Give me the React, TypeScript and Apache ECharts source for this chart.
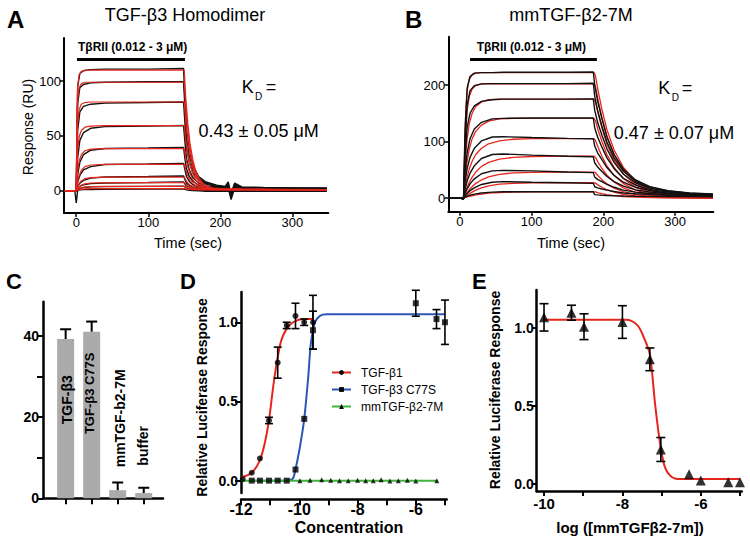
import { useEffect, useRef } from 'react';
import * as echarts from 'echarts';

const FONT = '"Liberation Sans", Arial, Helvetica, sans-serif';
const RED = '#e4261c';
const BLUE = '#2d55b5';
const GREEN = '#3fb53a';
const GRAY = '#ababab';

// ---------- Panel A: TGF-β3 homodimer sensorgrams ----------
const tAObs = [-16, -2, 0, 2, 5, 10, 20, 40, 100, 149, 151, 153, 157, 162, 170, 180, 195, 207, 211, 215, 220, 230, 260, 300, 348];
const aObs1 = [0, 0, 0, 95, 107, 109.5, 110.5, 111, 111, 111.5, 83, 56, 36, 23, 13, 8, 5, 4, 8, -3, 7, 3.5, 3, 2.5, 2.5];
const aObs2 = [0, 0, 0, 80, 94, 97, 98.5, 99, 99.5, 99.5, 75, 50, 32, 20, 11.5, 7, 4.5, 3.5, 6, -2, 6, 3, 2.8, 2.5, 2];
const aObs3 = [0, 0, 0, 55, 72, 77, 79, 80, 80.5, 81, 61, 40, 26, 16.5, 9.5, 6, 4, 3.5, 5, -4, 5, 3, 2.5, 2, 2];
const aObs4 = [0, 0, 0, 30, 46, 53, 57, 58.5, 59, 59.5, 44, 30, 19, 12, 7, 4.5, 3.5, 3, 4, -6, 4, 2.5, 2.5, 2, 1.5];
const aObs5 = [0, 0, 0, 15, 26, 33, 37, 38.5, 39, 39.5, 29, 20, 13, 8.5, 5, 3.5, 3, 2.5, 3, -8, 3, 2, 2, 1.5, 1.5];
const aObs6 = [0, 0, 0, 8, 14, 19, 22, 24, 24.5, 25, 19, 13, 8.5, 5.5, 3.5, 2.5, 2, 2, 2, -4, 2, 1.5, 1.5, 1.5, 1];
const aObs7 = [0, 0, 0, 4, 7, 9.5, 11.5, 12.5, 13, 13.5, 10, 7, 5, 3.5, 2.5, 2, 1.5, 1.5, 1.5, -1, 1.5, 1, 1, 1, 1];
const aObs8 = [0, 0, 0, 2, 4, 5.5, 6.5, 7, 7.5, 8, 6, 4.5, 3.5, 2.5, 2, 1.5, 1, 1, 1, 0, 1, 1, 1, 0.5, 0.5];
const aObs9 = [0, 0, 0, 1, 2, 3, 3.5, 3.8, 4, 4.2, 3.5, 2.5, 2, 1.5, 1, 0.5, 0.5, 0.5, 0.5, 0, 0.5, 0.5, 0.5, 0, 0];
const aObs10 = [0, 0, -11, 0.5, 0.8, 1, 1.2, 1.4, 1.5, 1.6, 1.2, 0.8, 0.5, 0.3, 0, -0.5, -0.5, -0.5, -0.5, -1, -0.5, -0.5, -0.5, -0.5, -0.5];

const tAFit = [-16, 0, 1, 2, 4, 7, 12, 20, 40, 150, 152, 155, 158, 162, 166, 170, 175, 180, 190, 200, 230, 280, 348];
const aFit1 = [0, 0, 75, 96, 106, 109, 110, 110, 110, 110, 86, 61, 43, 28, 18, 12, 7, 4.5, 2.5, 2, 1.5, 1.2, 1];
const aFit2 = [0, 0, 62, 84, 94, 97.5, 99, 99, 99, 99, 77, 55, 39, 25, 16, 11, 6.5, 4, 2.3, 1.8, 1.4, 1.1, 1];
const aFit3 = [0, 0, 42, 62, 74, 79, 80.5, 81, 81, 81, 63, 45, 32, 21, 13.5, 9, 5.5, 3.5, 2, 1.6, 1.3, 1.1, 1];
const aFit4 = [0, 0, 22, 37, 49, 55, 58, 59, 59.5, 59.5, 46, 33, 23.5, 15.5, 10, 6.5, 4, 2.8, 1.8, 1.5, 1.2, 1, 1];
const aFit5 = [0, 0, 10, 18, 27, 33, 36.5, 38, 38.5, 38.5, 30, 21.5, 15.5, 10, 6.5, 4.5, 3, 2.2, 1.5, 1.3, 1.1, 1, 1];
const aFit6 = [0, 0, 4.5, 8.5, 14, 18.5, 22, 23.5, 24, 24, 19, 13.5, 9.5, 6.5, 4.5, 3.2, 2.2, 1.7, 1.3, 1.1, 1, 1, 1];
const aFit7 = [0, 0, 2, 3.8, 6.5, 9, 11, 12, 12.5, 12.5, 10, 7, 5.2, 3.6, 2.6, 2, 1.5, 1.3, 1.1, 1, 1, 1, 1];
const aFit8 = [0, 0, 1, 2, 3.5, 5, 6.3, 7.1, 7.5, 7.5, 6, 4.4, 3.3, 2.4, 1.8, 1.5, 1.2, 1.1, 1, 1, 1, 1, 1];
const aFit9 = [0, 0, 0.5, 1, 1.8, 2.6, 3.3, 3.8, 4, 4, 3.3, 2.5, 2, 1.5, 1.2, 1, 1, 1, 1, 1, 1, 1, 1];
const aFit10 = [0, 0, 0.3, 0.5, 0.9, 1.3, 1.7, 1.9, 2, 2, 1.8, 1.5, 1.3, 1.1, 1, 0.9, 0.9, 0.9, 0.9, 0.9, 0.9, 0.9, 0.9];

// injection bar (TβRII) for A and B : [start, end, level]
const aInjection = [1, 151, 120.3];
const bInjection = [14, 191, 246];

// ---------- Panel B: mmTGF-β2-7M sensorgrams ----------
const tBObs = [-16, 2, 4, 5, 7, 10, 14, 20, 30, 45, 60, 100, 150, 186, 188, 192, 198, 205, 215, 228, 245, 265, 290, 320, 353];
const bObs1 = [0, 0, -2, 0, 120, 195, 215, 221, 222, 222, 222.5, 222.5, 222.5, 223, 200, 172, 140, 108, 77, 51, 32, 20, 13, 9, 7];
const bObs2 = [0, 0, -2, 0, 95, 165, 190, 199, 202, 202.5, 202.5, 202.5, 202.5, 203, 180, 155, 127, 99, 71, 47, 30, 19, 12.5, 8.5, 6.5];
const bObs3 = [0, 0, -2, 0, 70, 125, 150, 163, 171, 174, 175, 175, 175, 175.5, 155, 134, 111, 87, 63, 42, 27, 17.5, 11.5, 8, 6];
const bObs4 = [0, 0, -2, 0, 45, 80, 105, 122, 134, 140, 141, 141.5, 141.5, 141.5, 124, 108, 90, 71, 52, 35, 23, 15, 10.5, 7.5, 5.5];
const bObs5 = [0, 0, -2, 0, 28, 52, 72, 88, 101, 108, 108.5, 107, 105.5, 105, 92, 80, 68, 54, 40, 28, 19, 13, 9, 7, 5];
const bObs6 = [0, 0, -2, 0, 15, 30, 44, 57, 70, 77, 78, 76, 74, 73, 62, 55, 47, 38, 29, 21, 14.5, 10.5, 8, 6, 4.5];
const bObs7 = [0, 0, -2, 0, 8, 16, 25, 34, 43, 48, 49, 48, 46, 45, 37, 33, 29, 24, 19, 14, 10.5, 8, 6, 5, 4];
const bObs8 = [0, 0, -2, 0, 4, 8, 13, 18, 24, 28, 29, 28, 27, 26, 20, 18, 16, 14, 11.5, 9, 7.5, 6, 5, 4, 3.5];
const bObs9 = [0, 0, -2, 0, 1.5, 3, 5, 7, 9, 10.5, 11, 11, 11, 11, 6, 5.5, 5, 4.5, 4, 3.5, 3, 3, 2.5, 2.5, 2];

const tBFit = [-16, 5, 6, 8, 10, 13, 17, 22, 30, 40, 55, 75, 100, 140, 187, 189, 193, 198, 205, 215, 228, 245, 265, 290, 320, 353];
const bFit1 = [0, 0, 60, 150, 190, 210, 218, 221, 222, 222, 222, 222, 222, 222, 222, 216, 188, 157, 121, 85, 54, 30, 15, 6.5, 2.5, 0.8];
const bFit2 = [0, 0, 45, 115, 155, 180, 193, 199, 202, 202, 202, 202, 202, 202, 202, 196.5, 171, 143, 110, 77, 49, 27, 13.7, 5.9, 2.2, 0.8];
const bFit3 = [0, 0, 30, 75, 105, 132, 150, 162, 170, 174, 175, 175, 175, 175, 175, 170, 148, 124, 95, 67, 42.5, 23.6, 11.9, 5.1, 1.9, 0.7];
const bFit4 = [0, 0, 18, 45, 65, 87, 105, 118, 129, 136, 140, 141, 141, 141, 141, 137, 119, 100, 77, 54, 34, 19, 9.6, 4.1, 1.6, 0.6];
const bFit5 = [0, 0, 10, 25, 37, 52, 65, 77, 88, 96, 101, 104, 105, 105, 105, 102, 89, 74, 57, 40, 25.5, 14.2, 7.1, 3, 1.2, 0.4];
const bFit6 = [0, 0, 5, 13, 19, 28, 37, 46, 56, 63, 69, 72, 73.5, 74, 74, 72, 62.7, 52.3, 40.3, 28.3, 18, 10, 5, 2.1, 0.8, 0.3];
const bFit7 = [0, 0, 2.5, 6.5, 10, 15, 20, 26, 32, 37.5, 42, 44.5, 45.5, 46, 46, 44.8, 39, 32.5, 25, 17.6, 11.2, 6.2, 3.1, 1.3, 0.5, 0.2];
const bFit8 = [0, 0, 1.2, 3, 5, 7.5, 10.5, 14, 18, 21.5, 24.5, 26, 26.8, 27, 27, 26.3, 22.9, 19.1, 14.7, 10.3, 6.6, 3.6, 1.8, 0.8, 0.3, 0.1];
const bFit9 = [0, 0, 0.5, 1.2, 2, 3, 4, 5.5, 7, 8.5, 9.8, 10.5, 10.9, 11, 11, 10.7, 9.3, 7.8, 6, 4.2, 2.7, 1.5, 0.75, 0.3, 0.1, 0];

// ---------- Panel C: bar chart ----------
const cCategories = ['TGF-β3', 'TGF-β3 C77S', 'mmTGF-b2-7M', 'buffer'];
const cValues = [39.3, 41.1, 2.0, 1.3];
const cErrors = [2.4, 2.5, 1.9, 1.3];

// ---------- Panel D: luciferase dose response ----------
const dNames = ['TGF-β1', 'TGF-β3 C77S', 'mmTGF-β2-7M'];
const d1X = [-11.94, -11.63, -11.35, -11.04, -10.74, -10.43, -10.13, -9.83, -9.53];
const d1Y = [0.01, 0.05, 0.14, 0.38, 0.745, 0.98, 1.04, 1.0, 1.0];
const d1Err = [0, 0, 0, 0.02, 0.098, 0.02, 0.08, 0.02, 0.17];
const d2X = [-11.63, -11.35, -11.04, -10.74, -10.43, -10.13, -9.83, -9.53, -6.0, -5.29, -5.0];
const d2Y = [0, 0, 0, 0, 0, 0.07, 0.39, 0.95, 1.12, 1.02, 1.0];
const d2Err = [0, 0, 0, 0, 0, 0, 0, 0.12, 0.082, 0.06, 0.14];
const d3X = [-9.98, -9.63, -9.23, -8.92, -8.62, -8.32, -8.0, -7.72, -7.46, -7.19, -6.89, -6.6, -6.29, -6.0, -5.28];
const d3Y = [0, 0.003, 0.005, 0.003, 0, 0, 0.003, 0, 0, 0.005, -0.003, 0, 0.003, -0.003, 0];
const d1FitX = [-12, -11.63, -11.35, -11.18, -11.04, -10.89, -10.74, -10.61, -10.43, -10.21, -9.86, -9.52];
const d1FitY = [0.02, 0.05, 0.13, 0.24, 0.38, 0.6, 0.78, 0.89, 0.96, 1.0, 1.02, 1.02];
const d2FitX = [-11.7, -10.43, -10.3, -10.21, -10.13, -9.98, -9.83, -9.69, -9.6, -9.46, -9.29, -9.06, -5.0];
const d2FitY = [0, 0, 0.005, 0.015, 0.07, 0.21, 0.39, 0.66, 0.87, 1.0, 1.04, 1.05, 1.05];
const d3FitX = [-12, -5.25];
const d3FitY = [0, 0];

// ---------- Panel E: inhibition by mmTGF-β2-7m ----------
const eX = [-10, -9.3, -8.98, -8.0, -7.3, -7.02, -6.3, -6.0, -5.3, -5.0];
const eY = [1.07, 1.1, 1.01, 1.04, 0.8, 0.22, 0.06, 0.02, 0.01, 0.01];
const eErr = [0.088, 0.048, 0.083, 0.105, 0.073, 0.077, 0, 0, 0, 0];
const eFitX = [-10, -7.9, -7.62, -7.47, -7.3, -7.17, -7.04, -6.92, -6.75, -6.53, -6.2, -5.0];
const eFitY = [1.054, 1.054, 1.02, 0.95, 0.83, 0.52, 0.26, 0.11, 0.045, 0.03, 0.03, 0.03];

// tick values
const abTicksX = [0, 100, 200, 300];
const aTicksY = [0, 50, 100];
const bTicksY = [0, 100, 200];
const cTicksX = [1, 2, 3, 4];
const cTicksY = [0, 10, 20, 30, 40];
const cLabelsY = [0, 20, 40];
const dTicksX = [-12, -11, -10, -9, -8, -7, -6, -5];
const dLabelsX = [-12, -10, -8, -6];
const deTicksY = [0, 0.5, 1.0];
const eTicksX = [-10, -9, -8, -7, -6, -5];
const eLabelsX = [-10, -8, -6];

const pairs = (xs: number[], ys: number[]) => xs.map((x, i) => [x, ys[i]]);
const triples = (xs: number[], ys: number[], es: number[]) =>
  xs.map((x, i) => [x, ys[i], es[i]]).filter((d) => d[2] > 0);

type AxStyle = { lw: number; tl: number; tw: number; fs: number; fw: string; margin: number; offset?: number; fmt?: (v: number) => string; showLabel?: boolean };

function axis(grid: number, pos: string, min: number, max: number, ticks: number[], labels: number[], s: AxStyle) {
  return {
    type: 'value', gridIndex: grid, position: pos, min, max, offset: s.offset || 0,
    splitLine: { show: false },
    axisLine: { show: true, onZero: false, lineStyle: { color: '#000', width: s.lw } },
    axisTick: { show: true, inside: false, length: s.tl, customValues: ticks, lineStyle: { color: '#000', width: s.tw } },
    axisLabel: {
      show: s.showLabel !== false, customValues: labels, margin: s.margin, color: '#000',
      fontSize: s.fs, fontWeight: s.fw, fontFamily: FONT,
      formatter: s.fmt || ((v: number) => String(v)),
    },
  };
}

function errSeries(idx: number, data: number[][], cap: number, upOnly: boolean, lw: number) {
  return {
    type: 'custom', xAxisIndex: idx, yAxisIndex: idx, data, silent: true, clip: false, z: 4,
    encode: { x: 0, y: 1 },
    renderItem: (_p: any, api: any) => {
      const x = api.value(0), y = api.value(1), e = api.value(2);
      const top = api.coord([x, y + e]);
      const bot = api.coord([x, upOnly ? y : y - e]);
      const st = { stroke: '#000', lineWidth: lw };
      const children: any[] = [
        { type: 'line', shape: { x1: top[0], y1: top[1], x2: bot[0], y2: bot[1] }, style: st },
        { type: 'line', shape: { x1: top[0] - cap, y1: top[1], x2: top[0] + cap, y2: top[1] }, style: st },
      ];
      if (!upOnly) children.push({ type: 'line', shape: { x1: bot[0] - cap, y1: bot[1], x2: bot[0] + cap, y2: bot[1] }, style: st });
      return { type: 'group', children };
    },
  };
}

function sensor(idx: number, xs: number[], ys: number[], color: string, width: number, extra: any = {}) {
  return {
    type: 'line', xAxisIndex: idx, yAxisIndex: idx, data: pairs(xs, ys), symbol: 'none', silent: true,
    lineStyle: { color, width }, animation: false, ...extra,
  };
}

function txt(text: string, x: number, y: number, size: number, o: any = {}) {
  return {
    type: 'text', x, y, rotation: o.rot || 0, scaleY: o.sy || 1, silent: true, z: 100, zlevel: 0,
    style: {
      text, fontSize: size, fontWeight: o.bold ? 'bold' : 'normal', fontFamily: FONT, fill: '#000',
      align: o.align || 'center', verticalAlign: 'middle',
    },
  };
}

function buildOption() {
  const abStyle: AxStyle = { lw: 2, tl: 4, tw: 1.5, fs: 13, fw: 'normal', margin: 3 };
  const boldY: AxStyle = { lw: 2.5, tl: 6, tw: 2, fs: 14, fw: 'bold', margin: 3, fmt: (v) => v.toFixed(1) };
  const aObs = [aObs1, aObs2, aObs3, aObs4, aObs5, aObs6, aObs7, aObs8, aObs9, aObs10];
  const aFit = [aFit1, aFit2, aFit3, aFit4, aFit5, aFit6, aFit7, aFit8, aFit9, aFit10];
  const bObs = [bObs1, bObs2, bObs3, bObs4, bObs5, bObs6, bObs7, bObs8, bObs9];
  const bFit = [bFit1, bFit2, bFit3, bFit4, bFit5, bFit6, bFit7, bFit8, bFit9];

  const injMark = (inj: number[]) => ({
    silent: true, symbol: ['none', 'none'], label: { show: false },
    lineStyle: { color: '#000', width: 3, type: 'solid' },
    data: [[{ coord: [inj[0], inj[2]] }, { coord: [inj[1], inj[2]] }]],
  });

  const series: any[] = [];
  aObs.forEach((d, i) => series.push(sensor(0, tAObs, d, '#111', 1.4, i === 0 ? { markLine: injMark(aInjection) } : {})));
  aFit.forEach((d) => series.push(sensor(0, tAFit, d, RED, 1.2)));
  bFit.forEach((d) => series.push(sensor(1, tBFit, d, RED, 1.3)));
  bObs.forEach((d, i) => series.push(sensor(1, tBObs, d, '#111', 1.4, i === 0 ? { markLine: injMark(bInjection) } : {})));

  // C
  series.push({
    type: 'bar', xAxisIndex: 2, yAxisIndex: 2, barWidth: 17, silent: true, z: 1,
    data: cValues.map((v, i) => [cTicksX[i], v]), itemStyle: { color: GRAY },
  });
  series.push(errSeries(2, triples(cTicksX, cValues, cErrors), 5.5, true, 2));

  // D
  const fitD = [
    { name: dNames[0], x: d1FitX, y: d1FitY, c: RED, sym: 'circle' },
    { name: dNames[1], x: d2FitX, y: d2FitY, c: BLUE, sym: 'rect' },
    { name: dNames[2], x: d3FitX, y: d3FitY, c: GREEN, sym: 'triangle' },
  ];
  fitD.forEach((f) => series.push({
    type: 'line', name: f.name, xAxisIndex: 3, yAxisIndex: 3, data: pairs(f.x, f.y), smooth: 0.3,
    showSymbol: false, symbol: f.sym, symbolSize: 6, itemStyle: { color: '#000' },
    lineStyle: { color: f.c, width: 2 }, silent: true,
  }));
  series.push(errSeries(3, triples(d1X, d1Y, d1Err), 4, false, 1.6));
  series.push(errSeries(3, triples(d2X, d2Y, d2Err), 4, false, 1.6));
  series.push({ type: 'scatter', name: 'p1', xAxisIndex: 3, yAxisIndex: 3, data: pairs(d1X, d1Y), symbol: 'circle', symbolSize: 6, itemStyle: { color: '#000' }, silent: true, clip: false, z: 5 });
  series.push({ type: 'scatter', name: 'p2', xAxisIndex: 3, yAxisIndex: 3, data: pairs(d2X, d2Y), symbol: 'rect', symbolSize: 6, itemStyle: { color: '#000' }, silent: true, clip: false, z: 5 });
  series.push({ type: 'scatter', name: 'p3', xAxisIndex: 3, yAxisIndex: 3, data: pairs(d3X, d3Y), symbol: 'triangle', symbolSize: 5, itemStyle: { color: '#000' }, silent: true, clip: false, z: 5 });

  // E
  series.push({
    type: 'line', xAxisIndex: 4, yAxisIndex: 4, data: pairs(eFitX, eFitY), smooth: 0.3, symbol: 'none',
    lineStyle: { color: RED, width: 2 }, silent: true,
  });
  series.push(errSeries(4, triples(eX, eY, eErr), 4.5, false, 1.6));
  series.push({ type: 'scatter', xAxisIndex: 4, yAxisIndex: 4, data: pairs(eX, eY), symbol: 'triangle', symbolSize: 10, itemStyle: { color: '#000' }, silent: true, clip: false, z: 5 });

  const graphic: any[] = [
    txt('A', 7, 19, 24, { bold: true, align: 'left' }),
    txt('B', 405, 19, 24, { bold: true, align: 'left' }),
    txt('C', 6, 281, 22, { bold: true, align: 'left' }),
    txt('D', 180, 281, 22, { bold: true, align: 'left' }),
    txt('E', 472, 281, 22, { bold: true, align: 'left' }),
    txt('TGF-β3 Homodimer', 185, 15, 18),
    txt('mmTGF-β2-7M', 571, 15, 18),
    txt('TβRII (0.012 - 3 μM)', 78, 47, 12, { bold: true, align: 'left' }),
    txt('TβRII (0.012 - 3 μM)', 476.7, 47, 12, { bold: true, align: 'left' }),
    txt('K', 241.7, 87, 18, { align: 'left' }),
    txt('D', 255, 96, 10, { align: 'left' }),
    txt('=', 265.7, 87, 18, { align: 'left' }),
    txt('0.43 ± 0.05 μM', 258.7, 131, 18),
    txt('K', 658.3, 88, 18, { align: 'left' }),
    txt('D', 671.7, 97, 10, { align: 'left' }),
    txt('=', 681.7, 88, 18, { align: 'left' }),
    txt('0.47 ± 0.07 μM', 674, 133.3, 18),
    txt('Response (RU)', 28, 127, 14, { rot: Math.PI / 2 }),
    txt('Time (sec)', 188, 243, 14.5),
    txt('Time (sec)', 571, 243, 14.5),
    txt(cCategories[0], 66.7, 399.7, 14, { bold: true, rot: Math.PI / 2 }),
    txt(cCategories[1], 89.5, 393.3, 13, { bold: true, rot: Math.PI / 2 }),
    txt(cCategories[2], 120, 418.3, 14, { bold: true, rot: Math.PI / 2 }),
    txt(cCategories[3], 143.3, 445.8, 14, { bold: true, rot: Math.PI / 2 }),
    txt('Relative Luciferase Response', 201.7, 397.5, 14, { bold: true, rot: Math.PI / 2 }),
    txt('Concentration', 349, 527.3, 16, { bold: true }),
    txt('Relative Luciferase Response', 495, 390, 14, { bold: true, rot: Math.PI / 2 }),
    txt('log ([mmTGFβ2-7m])', 630, 527.3, 15, { bold: true }),
  ];

  return {
    animation: false,
    backgroundColor: '#fff',
    textStyle: { fontFamily: FONT },
    grid: [
      { left: 64, top: 38, width: 264.3, height: 175, containLabel: false },
      { left: 448.3, top: 36.7, width: 265, height: 175, containLabel: false },
      { left: 43, top: 301.7, width: 120, height: 196.6, containLabel: false },
      { left: 241, top: 292, width: 205.7, height: 201, containLabel: false },
      { left: 536.7, top: 290, width: 205, height: 201, containLabel: false },
    ],
    xAxis: [
      axis(0, 'bottom', -17, 350, abTicksX, abTicksX, abStyle),
      axis(1, 'bottom', -16.3, 353.4, abTicksX, abTicksX, abStyle),
      axis(2, 'bottom', 0.13, 4.74, cTicksX, [], { lw: 2.5, tl: 6, tw: 2, fs: 14, fw: 'bold', margin: 3, showLabel: false }),
      axis(3, 'bottom', -12, -4.94, dTicksX, dLabelsX, { lw: 2.5, tl: 6, tw: 2, fs: 16, fw: 'bold', margin: 2, offset: 6.3 }),
      axis(4, 'bottom', -10.187, -4.957, eTicksX, eLabelsX, { lw: 2.5, tl: 5, tw: 2, fs: 15, fw: 'bold', margin: 5 }),
    ],
    yAxis: [
      axis(0, 'left', -20.3, 139.4, aTicksY, aTicksY, abStyle),
      axis(1, 'left', -24.2, 285.5, bTicksY, bTicksY, abStyle),
      axis(2, 'left', 0, 48.5, cTicksY, cLabelsY, { lw: 2.5, tl: 6, tw: 2, fs: 14, fw: 'bold', margin: 4 }),
      axis(3, 'left', -0.078, 1.191, deTicksY, deTicksY, boldY),
      axis(4, 'left', -0.047, 1.246, deTicksY, deTicksY, { ...boldY, tl: 5 }),
    ],
    legend: {
      data: dNames, orient: 'vertical', left: 326, top: 361, itemWidth: 19, itemHeight: 6, itemGap: 4,
      selectedMode: false,
      textStyle: { fontSize: 12, fontFamily: FONT, color: '#000', padding: [0, 0, 0, 5], lineHeight: 13 },
    },
    series,
    graphic: { elements: graphic },
  };
}

export default function App() {
  const ref = useRef<HTMLDivElement>(null);
  useEffect(() => {
    const chart = echarts.init(ref.current!, null, { renderer: 'svg' });
    chart.setOption(buildOption() as any);
    return () => chart.dispose();
  }, []);
  return (
    <div
      ref={ref}
      style={{ position: 'fixed', left: 0, top: 0, width: 750, height: 543, background: '#fff' }}
    />
  );
}
